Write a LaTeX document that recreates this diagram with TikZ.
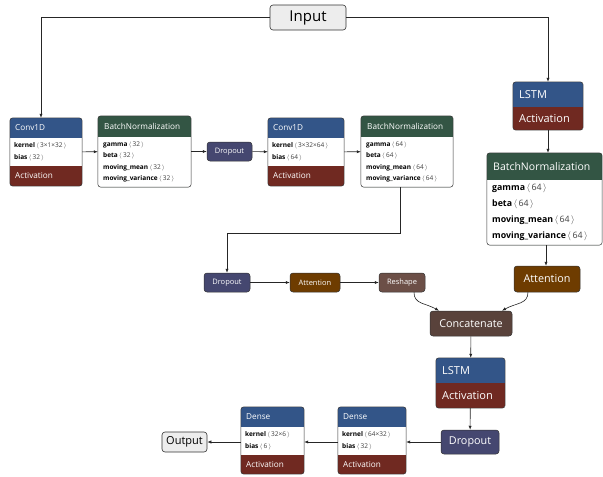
\documentclass[tikz,border=0pt]{standalone}
\usepackage{fontspec}
\setmainfont{Open Sans}
\usetikzlibrary{arrows.meta,positioning,calc}
\definecolor{layerblue}{HTML}{335588}
\definecolor{actred}{HTML}{702921}
\definecolor{normgreen}{HTML}{335544}
\definecolor{dropviolet}{HTML}{454770}
\definecolor{attbrown}{HTML}{6E3C00}
\definecolor{shapebrown}{HTML}{6C4F47}
\definecolor{tensorbrown}{HTML}{59423B}
\definecolor{edgegray}{HTML}{333333}
\tikzset{
  box/.style={rectangle, rounded corners=3pt, fill=white, inner sep=0pt},
  op/.style={rectangle, rounded corners=3pt, draw=edgegray, line width=0.5pt, fill=#1,
             text=white, inner sep=0pt, font=\fontsize{7.5}{9}\selectfont},
  bigop/.style={op=#1, font=\fontsize{10.8}{12}\selectfont},
  io/.style={rectangle, rounded corners=3pt, draw=edgegray, line width=0.6pt, fill=black!7,
             inner sep=0pt},
  head/.style={anchor=west, text=white, inner sep=0pt, font=\fontsize{8.2}{9}\selectfont},
  bighead/.style={head, font=\fontsize{11}{12}\selectfont},
  prm/.style={anchor=west, align=left, inner sep=0pt, font=\fontsize{6.5}{11.5}\selectfont},
  bigprm/.style={prm, font=\fontsize{8.8}{16}\selectfont},
  arr/.style={-{Latex[length=4pt,width=3.2pt]}, line width=0.6pt, draw=black!85},
}
% header / activation bands of a layer box
\newcommand{\bands}[5]{%
  \begin{scope}
    \clip[rounded corners=3pt] (#1.south west) rectangle (#1.north east);
    \fill[#4] (#1.north west) rectangle ([yshift=-#2]#1.north east);
    \fill[#5] (#1.south west) rectangle ([yshift=#3]#1.south east);
  \end{scope}
  \draw[edgegray, line width=0.5pt, rounded corners=3pt] (#1.south west) rectangle (#1.north east);
}
\newcommand{\dims}[1]{\textcolor{black!75}{\,$\langle$\,#1\,$\rangle$}}

\begin{document}
\begin{tikzpicture}[x=1pt,y=-1pt]
\useasboundingbox (0,0) rectangle (603,477);

\node[io, minimum width=76, minimum height=25, font=\fontsize{15}{16}\selectfont] (inp) at (308,17.5) {Input};
\node[io, minimum width=45, minimum height=20, font=\fontsize{11}{12}\selectfont] (outp) at (184.5,442) {Output};

% conv branch
\node[box, minimum width=72, minimum height=68] (conv1) at (46,152) {};
\bands{conv1}{20}{20}{layerblue}{actred}
\node[head] (conv1h) at (15,128) {Conv1D};
\node[prm] (conv1p) at (14,152) {\textbf{kernel}\dims{3×1×32}\\\textbf{bias}\dims{32}};
\node[head] (conv1a) at (15,176) {Activation};

\node[box, minimum width=93, minimum height=71] (bn1) at (144.5,151.5) {};
\bands{bn1}{21}{0}{normgreen}{normgreen}
\node[head] (bn1h) at (104,126.5) {BatchNormalization};
\node[prm] (bn1p) at (103,162) {\textbf{gamma}\dims{32}\\\textbf{beta}\dims{32}\\\textbf{moving\_mean}\dims{32}\\\textbf{moving\_variance}\dims{32}};

\node[op=dropviolet, minimum width=45, minimum height=19] (drop1) at (229.5,151.5) {Dropout};

\node[box, minimum width=76, minimum height=68] (conv2) at (306,152) {};
\bands{conv2}{20}{20}{layerblue}{actred}
\node[head] (conv2h) at (273,128) {Conv1D};
\node[prm] (conv2p) at (272,152) {\textbf{kernel}\dims{3×32×64}\\\textbf{bias}\dims{64}};
\node[head] (conv2a) at (273,176) {Activation};

\node[box, minimum width=92, minimum height=71] (bn2) at (407,151.5) {};
\bands{bn2}{21}{0}{normgreen}{normgreen}
\node[head] (bn2h) at (367,126.5) {BatchNormalization};
\node[prm] (bn2p) at (366,162) {\textbf{gamma}\dims{64}\\\textbf{beta}\dims{64}\\\textbf{moving\_mean}\dims{64}\\\textbf{moving\_variance}\dims{64}};

\node[op=dropviolet, minimum width=46, minimum height=19] (drop2) at (227,282.5) {Dropout};
\node[op=attbrown, minimum width=50, minimum height=19] (att2) at (315,282.5) {Attention};
\node[op=shapebrown, minimum width=46, minimum height=19] (resh) at (402,282.5) {Reshape};

% lstm branch
\node[box, minimum width=70, minimum height=48] (lstm1) at (548,106) {};
\bands{lstm1}{25}{23}{layerblue}{actred}
\node[bighead] (lstm1h) at (519,94.5) {LSTM};
\node[bighead] (lstm1a) at (519,118.5) {Activation};

\node[box, minimum width=115, minimum height=92] (bn3) at (544.5,199) {};
\bands{bn3}{27}{0}{normgreen}{normgreen}
\node[bighead, font=\fontsize{10.5}{12}\selectfont] (bn3h) at (493,166.5) {BatchNormalization};
\node[bigprm] (bn3p) at (492,212.5) {\textbf{gamma}\dims{64}\\\textbf{beta}\dims{64}\\\textbf{moving\_mean}\dims{64}\\\textbf{moving\_variance}\dims{64}};

\node[bigop=attbrown, minimum width=66, minimum height=26] (att3) at (547,279) {Attention};

% merged part
\node[bigop=tensorbrown, minimum width=82, minimum height=25] (concat) at (471,323.5) {Concatenate};

\node[box, minimum width=69, minimum height=50] (lstm2) at (470.5,383) {};
\bands{lstm2}{25}{25}{layerblue}{actred}
\node[bighead] (lstm2h) at (442,370.5) {LSTM};
\node[bighead] (lstm2a) at (442,395.5) {Activation};

\node[bigop=dropviolet, minimum width=58, minimum height=24] (drop3) at (470,442) {Dropout};

\node[box, minimum width=68, minimum height=67] (dense2) at (372,440.5) {};
\bands{dense2}{20}{19}{layerblue}{actred}
\node[head] (dense2h) at (343,417) {Dense};
\node[prm] (dense2p) at (342,441) {\textbf{kernel}\dims{64×32}\\\textbf{bias}\dims{32}};
\node[head] (dense2a) at (343,464.5) {Activation};

\node[box, minimum width=63, minimum height=67] (dense1) at (272.5,440.5) {};
\bands{dense1}{20}{19}{layerblue}{actred}
\node[head] (dense1h) at (246,417) {Dense};
\node[prm] (dense1p) at (245,441) {\textbf{kernel}\dims{32×6}\\\textbf{bias}\dims{6}};
\node[head] (dense1a) at (246,464.5) {Activation};

% edges
\draw[arr] (inp.west) -| ([xshift=-5]conv1.north);
\draw[arr] (inp.east) -| (lstm1.north);
\draw[arr] (conv1) -- (bn1);
\draw[arr] (bn1) -- (drop1);
\draw[arr] (drop1) -- (conv2);
\draw[arr] (conv2) -- (bn2);
\draw[arr] ([xshift=-7]bn2.south) -- ++(0,46) -| (drop2.north);
\draw[arr] (drop2) -- (att2);
\draw[arr] (att2) -- (resh);
\draw[arr] (lstm1.south) -- (lstm1.south |- bn3.north);
\draw[arr] ([xshift=1.5]bn3.south) -- ([xshift=1.5]bn3.south |- att3.north);
\draw[arr] ([xshift=12]resh.south) .. controls +(0,12) and +(-14,-8) .. ([xshift=-32]concat.north);
\draw[arr] ([xshift=-19]att3.south) .. controls +(0,12) and +(14,-8) .. ([xshift=31]concat.north);
\draw[arr] (concat) -- (lstm2);
\draw[arr] (lstm2) -- (drop3);
\draw[arr] (drop3.west) -- (drop3.west -| dense2.east);
\draw[arr] ([yshift=-1.5]dense2.west) -- ([yshift=-1.5]dense1.east);
\draw[arr] ([yshift=-1.5]dense1.west) -- (outp.east);
\end{tikzpicture}
\end{document}
